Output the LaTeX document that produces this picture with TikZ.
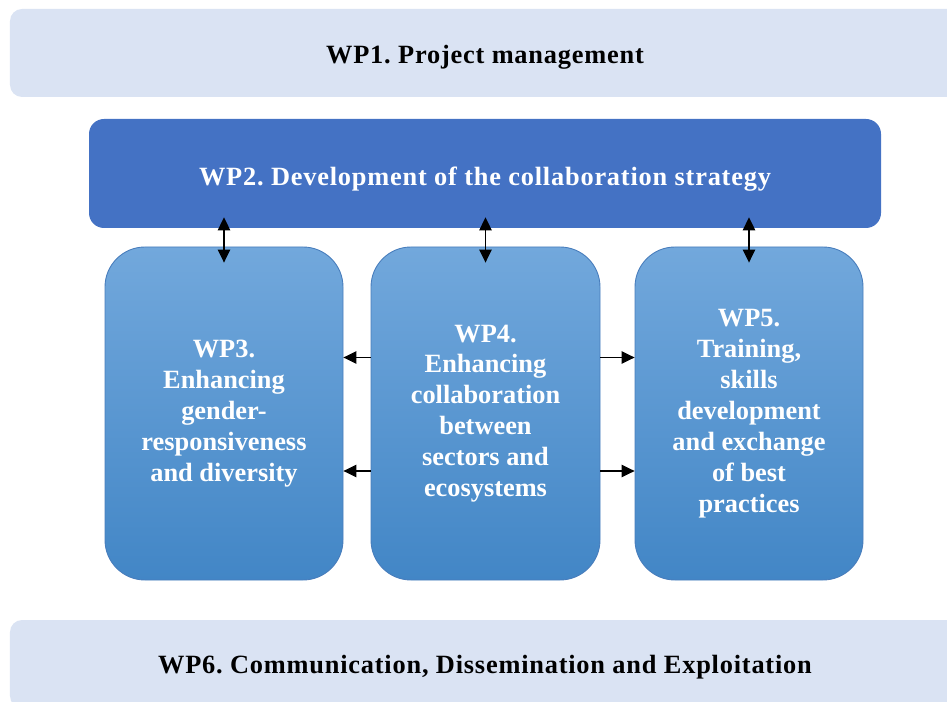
\documentclass[tikz,border=0pt]{standalone}
\usepackage{fontspec}
\setmainfont{Liberation Serif}
\usetikzlibrary{arrows.meta}
\frenchspacing

\definecolor{paleblue}{RGB}{218,227,243}
\definecolor{wpblue}{RGB}{68,114,196}
\definecolor{wptop}{RGB}{114,168,220}
\definecolor{wpbottom}{RGB}{66,134,198}
\definecolor{wpline}{RGB}{72,125,188}

\tikzset{
	wpfont/.style={font=\fontsize{15}{17.6}\selectfont\bfseries, align=center},
	titlefont/.style={font=\fontsize{15}{17.6}\selectfont\bfseries\addfontfeatures{LetterSpace=3}, text depth=3.3pt},
	outerbox/.style={titlefont, fill=paleblue, rounded corners=0.24cm, minimum width=19cm, minimum height=1.76cm},
	taskbox/.style={wpfont, text=white, draw=wpline, line width=0.5pt, top color=wptop, bottom color=wpbottom, rounded corners=0.8cm, minimum height=6.66cm},
	link/.style={line width=0.6pt, {Triangle[length=2.6mm,width=2.5mm]}-{Triangle[length=2.6mm,width=2.5mm]}},
	onelink/.style={line width=0.6pt, -{Triangle[length=2.6mm,width=2.5mm]}}
}

\begin{document}
\begin{tikzpicture}
			%%%%% START %%%%%
			
			\useasboundingbox (0, 0) rectangle (18.94, -14.04);
			\clip (0, 0) rectangle (18.94, -14.04);
			
			\node[outerbox, text height=14.8pt] (wp1) at (9.7, -1.06) {WP1. Project management};
			
			\node[titlefont, text height=17pt, text=white, fill=wpblue, rounded corners=0.3cm, minimum width=15.84cm, minimum height=2.18cm] (wp2) at (9.7, -3.47) {WP2. Development of the collaboration strategy};
			
			\node[taskbox, minimum width=4.76cm] (wp3) at (4.48, -8.27) {WP3.\\Enhancing\\gender-\\responsiveness\\and diversity};
			\node[taskbox, minimum width=4.58cm] (wp4) at (9.71, -8.27) {WP4.\\Enhancing\\collaboration\\between\\sectors and\\ecosystems};
			\node[taskbox, minimum width=4.56cm] (wp5) at (14.98, -8.27) {WP5.\\Training,\\skills\\development\\and exchange\\of best\\practices};
			
			\node[outerbox, text height=13.6pt] (wp6) at (9.7, -13.28) {WP6. Communication, Dissemination and Exploitation};
			
			% links up to WP2
			\draw[link] ([yshift=0.22cm]wp2.south -| wp3.north) -- ([yshift=-0.32cm]wp3.north);
			\draw[link] ([yshift=0.22cm]wp2.south -| wp4.north) -- ([yshift=-0.32cm]wp4.north);
			\draw[link] ([yshift=0.22cm]wp2.south -| wp5.north) -- ([yshift=-0.32cm]wp5.north);
			
			% links between the tasks
			\draw[onelink] ([yshift=1.12cm]wp4.west) -- ([yshift=1.12cm]wp3.east);
			\draw[onelink] ([yshift=-1.15cm]wp4.west) -- ([yshift=-1.15cm]wp3.east);
			\draw[onelink] ([yshift=1.12cm]wp4.east) -- ([yshift=1.12cm]wp5.west);
			\draw[onelink] ([yshift=-1.15cm]wp4.east) -- ([yshift=-1.15cm]wp5.west);
			
			%%%%% END %%%%%
		\end{tikzpicture}
\end{document}
